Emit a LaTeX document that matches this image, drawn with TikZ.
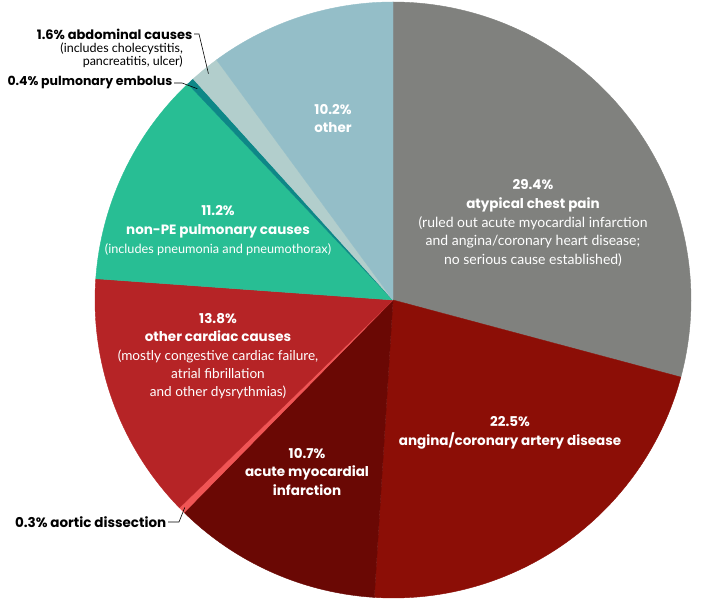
\documentclass[tikz,border=0pt]{standalone}
\usepackage{fontspec}
\setmainfont{Lato}
\newfontfamily\headfont{Poppins}
\usepackage{tikz}
\usetikzlibrary{calc}

\definecolor{atypGray}{RGB}{128,129,126}
\definecolor{anginaRed}{RGB}{140,14,6}
\definecolor{amiRed}{RGB}{106,8,4}
\definecolor{aorticRed}{RGB}{240,85,85}
\definecolor{cardRed}{RGB}{182,36,38}
\definecolor{pulmGreen}{RGB}{40,190,148}
\definecolor{peTeal}{RGB}{14,135,135}
\definecolor{abdGray}{RGB}{178,206,204}
\definecolor{otherBlue}{RGB}{148,190,200}

\newcommand{\hd}{\fontsize{13.5}{18.8}\selectfont\headfont\bfseries}

\begin{document}
\begin{tikzpicture}[x=1pt, y=1pt,
    inlabel/.style={text=white, align=center, inner sep=0pt, font=\fontsize{13.5}{18.6}\selectfont},
    outlabel/.style={text=black, inner xsep=1.5pt, inner ysep=0pt, font=\fontsize{12.5}{16}\selectfont\headfont\bfseries},
    leader/.style={black, line width=0.6pt}]
					\useasboundingbox (0,0) rectangle (723,600);
					\coordinate (C) at (393,300);
					% slices, clockwise from the top
					\foreach \a/\b/\col in {90/-15/atypGray, -15/-93.6/anginaRed, -93.6/-134.5/amiRed,
					        -134.5/-135.8/aorticRed, -135.8/-184.1/cardRed, -184.1/-226.5/pulmGreen,
					        -226.5/-227.9/peTeal, -227.9/-233.7/abdGray, -233.7/-270/otherBlue}
					    \path[fill=\col, draw=\col, line width=0.4pt, line join=round] (C) -- ++(\a:298) arc[start angle=\a, end angle=\b, radius=298] -- cycle;

					\node[inlabel, font=\fontsize{14}{18.8}\selectfont] (atyp) at (533,377) {{\hd 29.4\%}\\
					    {\hd atypical chest pain}\\
					    (ruled out acute myocardial infarction\\ and angina/coronary heart disease;\\ no serious cause established)};
					\node[inlabel, font=\fontsize{13.5}{19}\selectfont] (angina) at (510,167.5) {{\hd 22.5\%}\\ {\hd angina/coronary artery disease}};
					\node[inlabel] (ami) at (307,128.3) {{\hd 10.7\%}\\ {\hd acute myocardial}\\ {\hd infarction}};
					\node[inlabel, font=\fontsize{13.6}{18.3}\selectfont] (card) at (218,243.6) {{\hd 13.8\%}\\
					    {\hd other cardiac causes}\\
					    (mostly congestive cardiac failure,\\ atrial fibrillation\\ and other dysrythmias)};
					\node[inlabel, font=\fontsize{12.7}{19}\selectfont] (pulm) at (218,369) {{\hd 11.2\%}\\
					    {\hd non-PE pulmonary causes}\\
					    (includes pneumonia and pneumothorax)};
					\node[inlabel, font=\fontsize{13.5}{18}\selectfont] (other) at (333,481) {{\hd 10.2\%}\\ {\hd other}};

					% outside labels with leaders
					\node[outlabel, anchor=east, font=\fontsize{13}{16}\selectfont\headfont\bfseries] (abdName) at (194,566) {1.6\% abdominal causes};
					\node[anchor=north east, align=right, inner sep=0pt, font=\fontsize{12.5}{12.5}\selectfont] (abdNote) at (183,557) {(includes cholecystitis,\\ pancreatitis, ulcer)};
					\node[outlabel, anchor=east] (peName) at (174,517) {0.4\% pulmonary embolus};
					\node[outlabel, anchor=east, font=\fontsize{13.5}{16}\selectfont\headfont\bfseries] (aorticName) at (168,78) {0.3\% aortic dissection};
					\coordinate (abdTip) at ($(C)+(129.2:292)$);
					\coordinate (peTip) at ($(C)+(132.8:288)$);
					\coordinate (aorticTip) at ($(C)+(-135.1:294)$);
					\draw[leader] (abdName.east) -- ++(5,0) -- (abdTip);
					\draw[leader] (peName.east) -- ++(8,0) -- (peTip);
					\draw[leader] (aorticName.east) -- ++(11,0) -- (aorticTip);
				\end{tikzpicture}
\end{document}
